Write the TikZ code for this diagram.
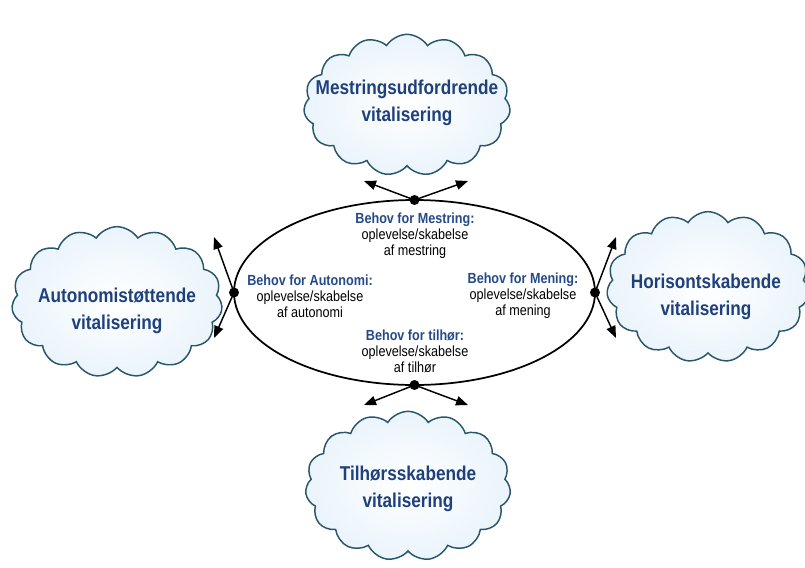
\documentclass[tikz,border=0pt]{standalone}
\usepackage{fontspec}
\setmainfont{Liberation Sans}[FakeStretch=0.86]
\usetikzlibrary{shapes.geometric,shapes.symbols,arrows.meta}

\definecolor{titleblue}{RGB}{30,64,124}
\definecolor{needblue}{RGB}{36,74,136}
\definecolor{cloudline}{RGB}{42,86,108}
\definecolor{cloudfill}{RGB}{234,244,251}

\tikzset{every picture/.style={line width=0.75pt}}
\tikzset{
  vitcloud/.style={cloud, cloud puffs=15, cloud puff arc=115, draw=cloudline, line width=1.1pt,
    inner color=white, outer color=cloudfill, inner sep=0pt},
  vittext/.style={align=center, text=titleblue, font=\bfseries\fontsize{15}{20}\selectfont, inner sep=0.75pt},
  needtext/.style={align=center, font=\fontsize{11}{12}\selectfont, inner sep=0.75pt},
  vitarrow/.style={line width=1.1pt, -{Triangle[length=9pt,width=7pt]}},
  vitdot/.style={circle, fill=black, inner sep=0pt, minimum size=7.5pt}
}

\begin{document}
\begin{tikzpicture}[x=0.75pt,y=0.75pt,yscale=-1,xscale=1]
\path[use as bounding box] (0,0) rectangle (805,567);

% Clouds
\node[vitcloud, minimum width=155pt, minimum height=106pt] (mest) at (407,105) {};
\node[vitcloud, minimum width=158pt, minimum height=113pt] (auto) at (117,302) {};
\node[vitcloud, minimum width=152pt, minimum height=113pt] (hor) at (708,287) {};
\node[vitcloud, minimum width=154pt, minimum height=112pt] (tilh) at (408,486) {};

% Text Node
\node[vittext] (mestlbl) at (407,103) {Mestringsudfordrende\\vitalisering};
% Text Node
\node[vittext] (autolbl) at (117,311) {Autonomistøttende\\vitalisering};
% Text Node
\node[vittext] (horlbl) at (706,297) {Horisontskabende\\vitalisering};
% Text Node
\node[vittext] (tilhlbl) at (408,489) {Tilhørsskabende\\vitalisering};

% Ellipse
\node[ellipse, draw, line width=1.3pt, outer sep=0pt, inner sep=0pt,
  minimum width=270.75pt, minimum height=138.75pt] (core) at (414.5,292.5) {};

% Text Node
\node[needtext] (mestneed) at (415,236) {\textcolor{needblue}{\bfseries Behov for Mestring:}\\oplevelse/skabelse\\af mestring};
% Text Node
\node[needtext] (autoneed) at (310,296) {\textcolor{needblue}{\bfseries Behov for Autonomi:}\\oplevelse/skabelse\\af autonomi};
% Text Node
\node[needtext] (horneed) at (523,296) {\textcolor{needblue}{\bfseries Behov for Mening:}\\oplevelse/skabelse\\af mening};
% Text Node
\node[needtext] (tilhneed) at (415,351) {\textcolor{needblue}{\bfseries Behov for tilhør:}\\oplevelse/skabelse\\af tilhør};

% Arrow ends
\coordinate (mestL) at (364,181);
\coordinate (mestR) at (468,181);
\coordinate (autoU) at (214,237);
\coordinate (autoD) at (214,338);
\coordinate (horU) at (616,237);
\coordinate (horD) at (616,338);
\coordinate (tilhL) at (364,405);
\coordinate (tilhR) at (468,405);

% Arrows
\draw[vitarrow] (core.north) -- (mestL);
\draw[vitarrow] (core.north) -- (mestR);
\draw[vitarrow] (core.west) -- (autoU);
\draw[vitarrow] (core.west) -- (autoD);
\draw[vitarrow] (core.east) -- (horU);
\draw[vitarrow] (core.east) -- (horD);
\draw[vitarrow] (core.south) -- (tilhL);
\draw[vitarrow] (core.south) -- (tilhR);

% Dots
\node[vitdot] (mestdot) at (core.north) {};
\node[vitdot] (autodot) at (core.west) {};
\node[vitdot] (hordot) at (core.east) {};
\node[vitdot] (tilhdot) at (core.south) {};

\end{tikzpicture}
\end{document}
